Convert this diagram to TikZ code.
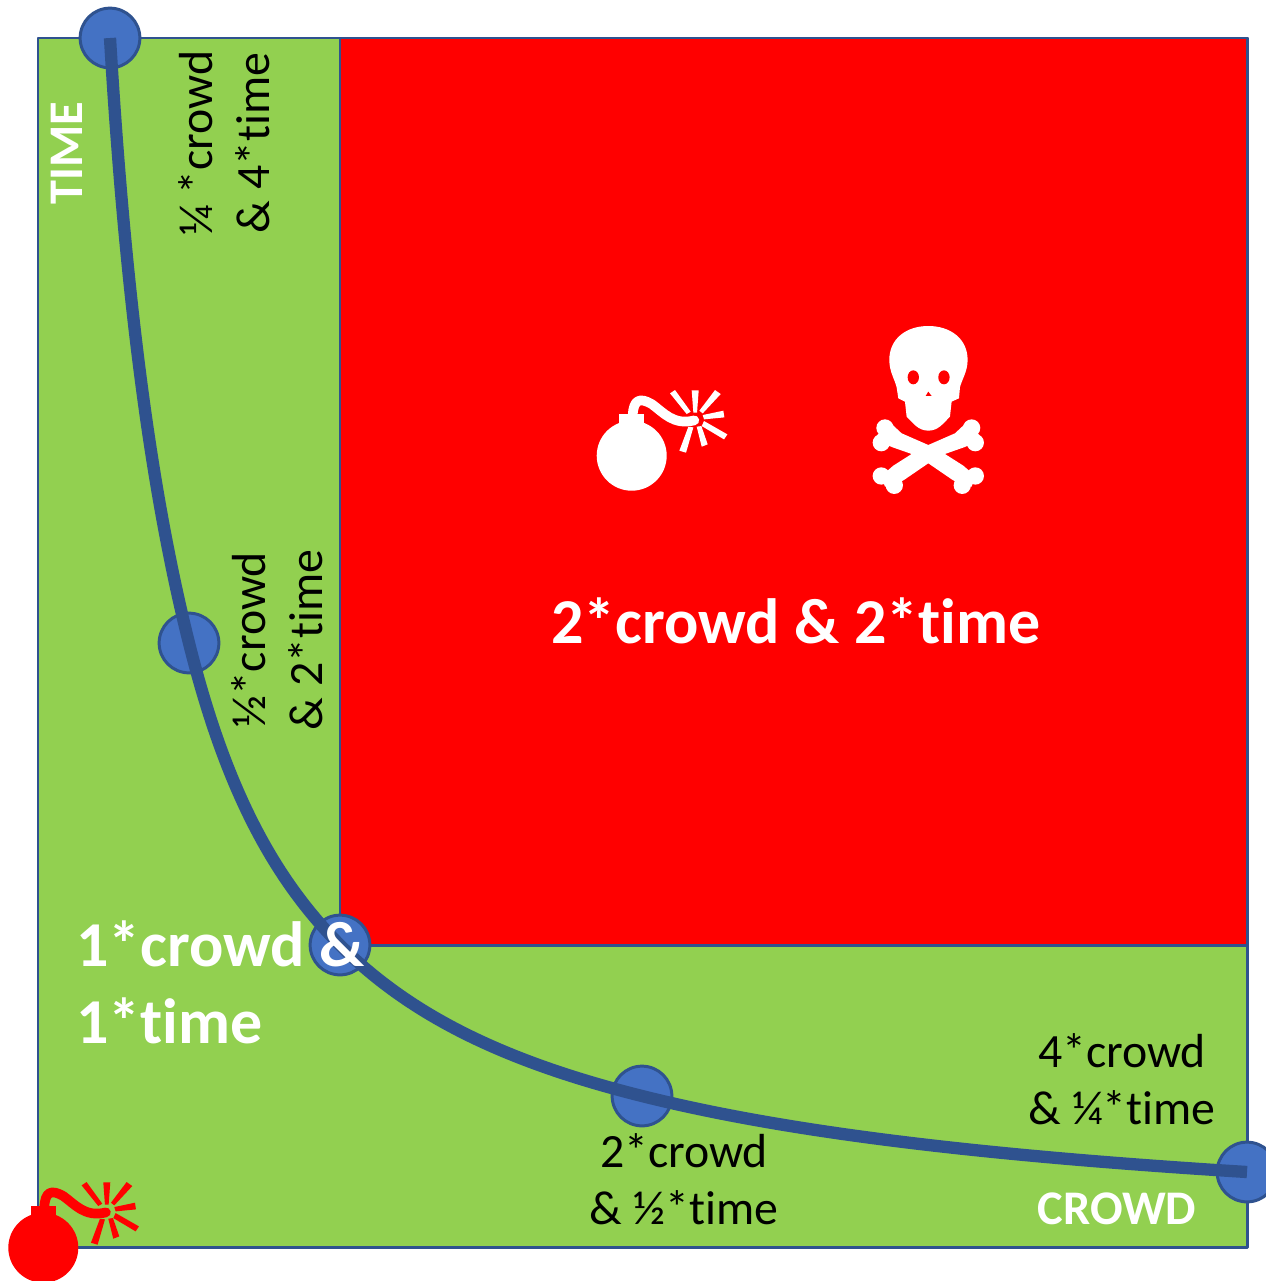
\documentclass[tikz,border=0pt]{standalone}
\usepackage{fontspec}
\setmainfont{Carlito}[Ligatures=NoCommon]
\usetikzlibrary{arrows.meta,calc}
\definecolor{safegreen}{HTML}{92D050}
\definecolor{deadred}{HTML}{FF0000}
\definecolor{dotfill}{HTML}{4472C4}
\definecolor{curveblue}{HTML}{2F528F}
\tikzset{
  region/.style={draw=curveblue,line width=1.7pt},
  dot/.style={circle,fill=dotfill,draw=curveblue,line width=1.7pt,minimum size=34pt,inner sep=0pt},
  curveline/.style={draw=curveblue,line width=7pt},
  biglabel/.style={text=white,font=\fontsize{36.4}{44}\selectfont\bfseries},
  smalllabel/.style={text=black,font=\fontsize{27.2}{32.5}\selectfont,align=center},
  axislabel/.style={text=white,font=\fontsize{27.5}{30}\selectfont\bfseries},
  pics/bomb/.style={code={
    \begin{scope}[scale=0.3333]
      \fill[#1] (0,0) circle (105);
      \fill[#1] (-38,-125) -- (38,-125) -- (38,-90) -- (-38,-90) -- cycle;
      \draw[#1,line width=5.5pt,line cap=round] (3,-120) .. controls (5,-170) and (25,-175) .. (60,-155)
        .. controls (95,-130) and (125,-90) .. (188,-106);
      % sparks round the fuse tip
      \fill[#1] (115,-187) -- (130,-197) -- (177,-132) -- (165,-125) -- cycle;
      \fill[#1] (180,-196) -- (201,-196) -- (196,-129) -- (185,-129) -- cycle;
      \fill[#1] (250,-197) -- (267,-185) -- (213,-127) -- (203,-135) -- cycle;
      \fill[#1] (275,-135) -- (278,-115) -- (217,-109) -- (213,-122) -- cycle;
      \fill[#1] (287,-64) -- (277,-49) -- (210,-89) -- (217,-104) -- cycle;
      \fill[#1] (195,-87) -- (209,-89) -- (228,-34) -- (210,-27) -- cycle;
      \fill[#1] (170,-87) -- (185,-85) -- (163,-9) -- (143,-15) -- cycle;
    \end{scope}
  }}
}
\begin{document}
\begin{tikzpicture}[x=0.02cm,y=-0.02cm,line join=round]
  \useasboundingbox (0,0) rectangle (1265,1281);
  % Safe field and the deadly corner.
  \fill[white] (0,0) rectangle (1265,1281);
  \draw[region,fill=safegreen] (38,38) rectangle (1247,1247);
  \draw[region,fill=deadred] (340,38) rectangle (1247,945);
  % Points on the curve.
  \node[dot] (topdot) at (110,38) {};
  \node[dot] (halfdot) at (189,643) {};
  \node[dot] (middot) at (340,945) {};
  \node[dot] (twodot) at (642,1096) {};
  \node[dot] (fourdot) at (1247,1172) {};
  \draw[curveline] (topdot.center) .. controls (126.6,317) and (154,503.5) .. (halfdot.center)
    .. controls (223.9,782.5) and (270.2,875.2) .. (middot.center)
    .. controls (409.8,1014.8) and (502.5,1061.1) .. (twodot.center)
    .. controls (781.5,1130.9) and (967.7,1154.7) .. (fourdot.center);
  % Labels.
  \node[biglabel] (deadlabel) at (796,621) {2*crowd \& 2*time};
  \node[biglabel,anchor=base west] (midone) at (70,966) {1*crowd \&};
  \node[biglabel,anchor=base west] (midtwo) at (70,1043) {1*time};
  \node[smalllabel,rotate=90] (quarterlabel) at (224,143) {¼ *crowd\\\& 4*time};
  \node[smalllabel,rotate=90] (halflabel) at (277,640) {½*crowd\\\& 2*time};
  \node[smalllabel] (doublelabel) at (684,1179) {2*crowd\\\& ½*time};
  \node[smalllabel] (fourlabel) at (1122,1079) {4*crowd\\\& ¼*time};
  \node[axislabel,rotate=90] (timelabel) at (67,153) {TIME};
  \node[axislabel] (crowdlabel) at (1117,1209) {CROWD};
  % Bombs.
  \pic at (631.7,455.7) {bomb=white};
  \pic at (43.3,1247.7) {bomb=deadred};
  % Skull and bones.
  \begin{scope}[shift={(560,300)},scale=0.3333]
    \fill[white] (1105,435) -- (1185,400) -- (1215,372) -- (1235,384) -- (1258,405) -- (1246,428) -- (1212,442) -- (1155,462) -- (1210,497) -- (1246,528) -- (1235,560) -- (1207,556) -- (1178,540) -- (1105,490) -- (1032,540) -- (1003,556) -- (975,560) -- (964,528) -- (1000,497) -- (1055,462) -- (998,442) -- (964,428) -- (952,405) -- (975,384) -- (995,372) -- (1025,400) -- cycle;
    \foreach \kx/\ky in {975/384,964/428,1235/384,1246/428,964/528,1003/556,1246/528,1207/556}
      \fill[white] (\kx,\ky) circle (26);
    \fill[white] (1105,78) .. controls (1040,78) and (988,115) .. (988,180)
      .. controls (988,215) and (1005,240) .. (1010,262) -- (1015,295) -- (1035,305) -- (1040,350)
      .. controls (1060,370) and (1075,392) .. (1105,392)
      .. controls (1135,392) and (1150,370) .. (1170,350) -- (1175,305) -- (1197,295) -- (1200,262)
      .. controls (1205,240) and (1223,215) .. (1223,180)
      .. controls (1223,115) and (1170,78) .. (1105,78) -- cycle;
    \fill[deadred] (1060,232) ellipse (17 and 21);
    \fill[deadred] (1152,232) ellipse (17 and 21);
    \fill[deadred] (1105,275) -- (1097,288) -- (1115,288) -- cycle;
  \end{scope}
\end{tikzpicture}
\end{document}
